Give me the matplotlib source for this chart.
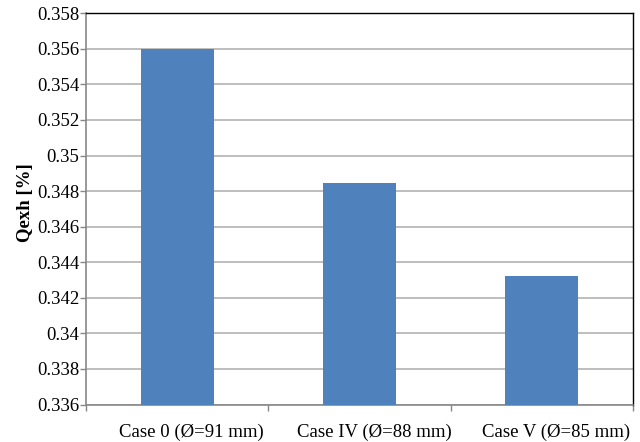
import matplotlib
matplotlib.use("Agg")
import matplotlib.pyplot as plt
from matplotlib.ticker import FixedLocator, FuncFormatter
from matplotlib.transforms import ScaledTranslation

categories = ["Case 0 (Ø=91 mm)", "Case IV (Ø=88 mm)", "Case V (Ø=85 mm)"]
values = [0.356, 0.34848, 0.34324]
yticks = [0.336, 0.338, 0.34, 0.342, 0.344, 0.346, 0.348, 0.35, 0.352, 0.354, 0.356, 0.358]

plt.rcParams['font.family'] = ['Liberation Serif', 'DejaVu Serif']

fig = plt.figure(figsize=(6.4, 4.42), dpi=100)
ax = fig.add_axes([0.1344, 0.0848, 0.989 - 0.1344, 0.970 - 0.0848])

x = list(range(len(categories)))
ax.bar(x, values, width=0.4, color="#4F81BD", zorder=3, bottom=0)
ax.set_xlim(-0.5, len(categories) - 0.5)
ax.set_ylim(0.336, 0.358)
ax.set_yticks(yticks)
ax.yaxis.set_major_formatter(FuncFormatter(lambda v, p: ("%.3f" % v).rstrip('0').rstrip('.')))
ax.set_xticks(x)
ax.set_xticklabels(categories)
ax.xaxis.set_minor_locator(FixedLocator([i - 0.5 for i in range(len(categories) + 1)]))
ax.tick_params(axis='x', which='major', length=0, pad=14, labelsize=13.5)
ax.tick_params(axis='x', which='minor', length=4, color="#878787", width=1, direction='out')
ax.tick_params(axis='y', length=4, color="#878787", width=1, direction='out', labelsize=13.5, pad=1)
shift = ScaledTranslation(14.5 / 100, 0, fig.dpi_scale_trans)
for lab in ax.get_xticklabels():
    lab.set_transform(lab.get_transform() + shift)
ax.grid(axis='y', color="#B3B3B3", linewidth=1.2, zorder=0)
ax.set_axisbelow(True)
for s in ['left', 'bottom']:
    ax.spines[s].set_color("#878787")
    ax.spines[s].set_linewidth(1.2)
for s in ['top', 'right']:
    ax.spines[s].set_color("black")
    ax.spines[s].set_linewidth(1.0)
ax.set_ylabel("Qexh [%]", fontweight='bold', fontsize=13.5)
ax.yaxis.set_label_coords(-0.095, 0.516)

fig.savefig("out.png", dpi=100)
